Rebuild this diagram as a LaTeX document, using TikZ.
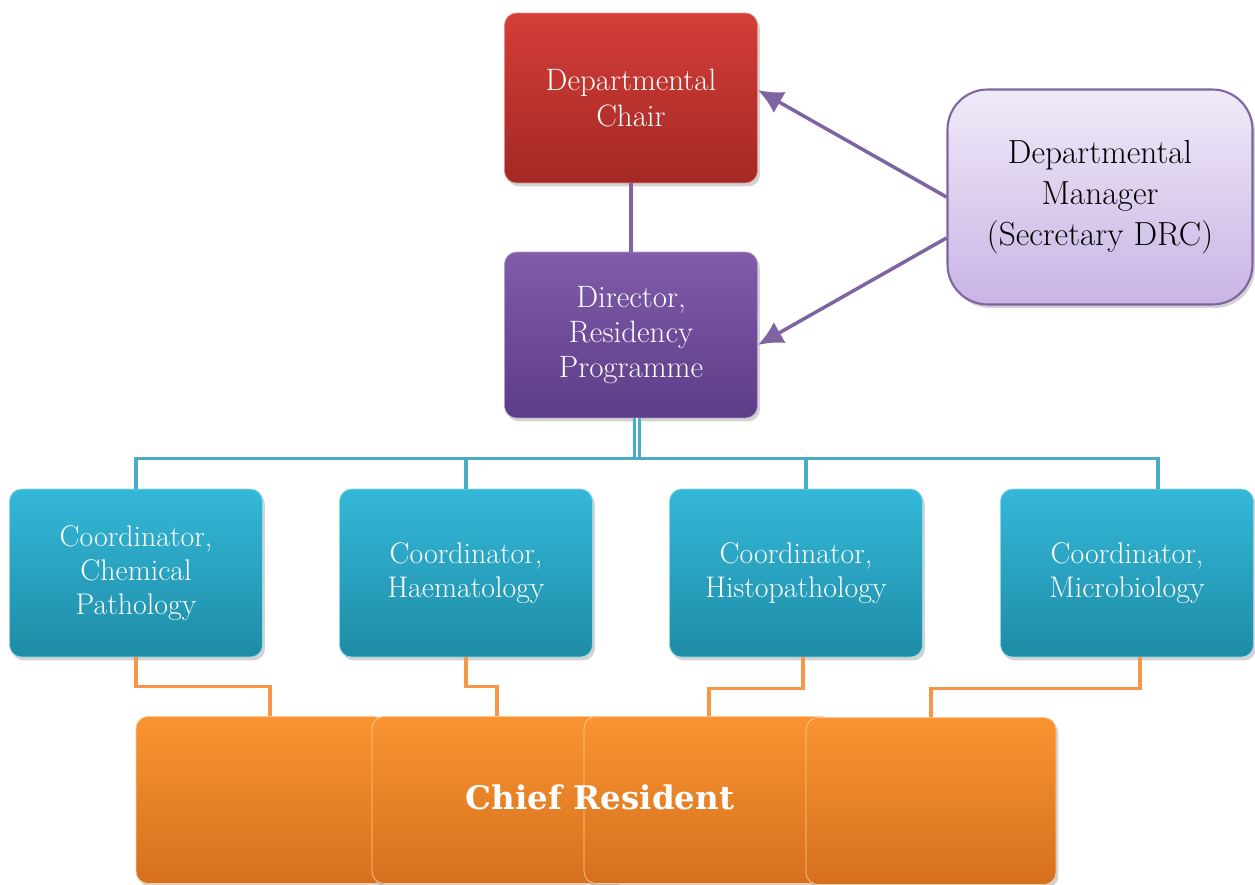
\documentclass[tikz,border=0pt]{standalone}
\usepackage{fontspec}
\newfontfamily\chieffont{DejaVu Serif}
\usetikzlibrary{arrows.meta,shadows}

\definecolor{chairtop}{RGB}{212,62,56}
\definecolor{chairbot}{RGB}{163,40,36}
\definecolor{dirtop}{RGB}{128,92,170}
\definecolor{dirbot}{RGB}{92,60,136}
\definecolor{mgrtop}{RGB}{240,234,248}
\definecolor{mgrbot}{RGB}{200,180,228}
\definecolor{mgredge}{RGB}{128,100,162}
\definecolor{coordtop}{RGB}{52,184,216}
\definecolor{coordbot}{RGB}{30,140,166}
\definecolor{restop}{RGB}{250,148,48}
\definecolor{resbot}{RGB}{214,112,30}
\definecolor{busteal}{RGB}{75,172,198}
\definecolor{resorange}{RGB}{247,150,70}

\tikzset{
  orgbox/.style={rectangle,
      rounded corners = 0.24cm,
      minimum width = 5.06cm,
      minimum height = 3.4cm,
      align = center,
      text = white,
      font = \fontsize{17.6}{20}\selectfont,
      drop shadow = {opacity=0.35, shadow xshift=0.05cm, shadow yshift=-0.07cm}},
  chairbox/.style={orgbox, top color = chairtop, bottom color = chairbot,
      draw = chairtop!60!white},
  dirbox/.style={orgbox, minimum height = 3.32cm, top color = dirtop,
      bottom color = dirbot, draw = dirtop!60!white},
  mgrbox/.style={orgbox, rounded corners = 0.8cm,
      minimum width = 6.1cm, minimum height = 4.3cm,
      text = black, font = \fontsize{19}{23.2}\selectfont,
      top color = mgrtop, bottom color = mgrbot,
      draw = mgredge, line width = 1.2pt},
  coordbox/.style={orgbox, minimum height = 3.36cm,
      font = \fontsize{17}{19.4}\selectfont,
      top color = coordtop, bottom color = coordbot,
      draw = coordtop!55!white},
  resbox/.style={orgbox, minimum width = 5cm, minimum height = 3.34cm,
      top color = restop, bottom color = resbot,
      draw = restop!50!white},
  mgrarrow/.style={draw = mgredge, line width = 2pt,
      -{Latex[length=0.5cm,width=0.48cm]}},
  busline/.style={draw = busteal, line width = 1.8pt},
  resline/.style={draw = resorange, line width = 1.9pt},
}

\begin{document}
\begin{tikzpicture}[x=0.02cm, y=-0.02cm]
  \useasboundingbox (0,0) rectangle (1255,885);

  % top of the tree
  \node[chairbox] (chair) at (631,98) {Departmental\\Chair};
  \node[dirbox] (dir) at (631,335) {Director,\\Residency\\Programme};
  \node[mgrbox] (mgr) at (1100,197) {Departmental\\Manager\\(Secretary DRC)};

  \draw[draw = mgredge, line width = 1.9pt] (chair.south) -- (dir.north);

  % manager reports to both
  \draw[mgrarrow] (mgr.west) -- ([yshift=0.16cm]chair.east);
  \draw[mgrarrow] ([yshift=-0.82cm]mgr.west) -- ([yshift=-0.2cm]dir.east);

  % the coordinators
  \node[coordbox] (cA) at (136,573) {Coordinator,\\Chemical\\Pathology};
  \node[coordbox] (cB) at (466,573) {Coordinator,\\Haematology};
  \node[coordbox] (cC) at (796,573) {Coordinator,\\Histopathology};
  \node[coordbox] (cD) at (1127,573) {Coordinator,\\Microbiology};

  \draw[busline, double = white, double distance = 1.4pt]
    ([xshift=0.12cm]dir.south) -- ++(0,40) coordinate (bus);
  \draw[busline] (bus) -| (cA.north);
  \draw[busline] (bus) -| (cB.north);
  \draw[busline] (bus) -| ([xshift=0.2cm]cC.north);
  \draw[busline] (bus) -| ([xshift=0.62cm]cD.north);

  % chief resident row
  \node[resbox] (rA) at (261,800) {};
  \node[resbox] (rB) at (497,800) {};
  \node[resbox] (rC) at (709,800) {};
  \node[resbox] (rD) at (931,801) {};
  \node[text = white, font = \chieffont\bfseries\fontsize{18.5}{22}\selectfont]
    (chief) at (600,797) {Chief Resident};

  \draw[resline] (cA.south) -- ++(0,29) -| ([xshift=0.18cm]rA.north);
  \draw[resline] (cB.south) -- ++(0,29) -| (rB.north);
  \draw[resline] ([xshift=0.14cm]cC.south) -- ++(0,31) -| (rC.north);
  \draw[resline] ([xshift=0.26cm]cD.south) -- ++(0,31) -| (rD.north);

\end{tikzpicture}
\end{document}
